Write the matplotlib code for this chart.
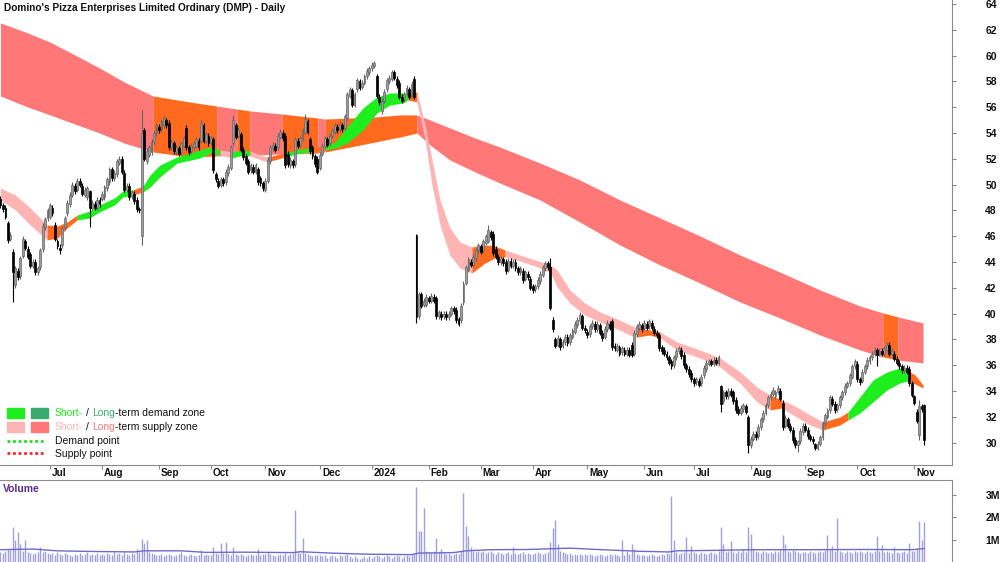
import matplotlib
matplotlib.use("Agg")
import matplotlib.pyplot as plt
import matplotlib.transforms as mtransforms
from matplotlib.lines import Line2D
from matplotlib.patches import Rectangle
import numpy as np
import pandas as pd

plt.rcParams["font.family"] = ["Liberation Sans", "DejaVu Sans"]

TITLE = "Domino's Pizza Enterprises Limited Ordinary (DMP) - Daily"

# trading-day calendar starts 2023-06-01; first candle is day index 2
CAL_START = "2023-06-01"
FIRST = 2
MONTH_LABELS = ["Jul", "Aug", "Sep", "Oct", "Nov", "Dec", "2024", "Feb", "Mar",
                "Apr", "May", "Jun", "Jul", "Aug", "Sep", "Oct", "Nov"]

opens = [
    # Jun 2023
    48.9, 48.4, 48.2, 47.0, 45.8, 44.8, 42.2, 43.3, 42.9, 44.5, 45.6, 45.0, 44.6, 43.7, 44.0, 43.2, 43.6, 45.0, 46.7, 47.4,
    # Jul
    47.5, 48.2, 46.9, 45.6, 45.1, 45.3, 46.7, 47.8, 48.5, 49.2, 49.9, 49.6, 50.3, 49.9, 49.2, 49.0, 49.5, 48.2, 48.5, 48.2, 48.8,
    # Aug
    48.9, 49.0, 49.7, 50.2, 51.2, 50.5, 50.8, 51.7, 52.0, 50.9, 49.6, 49.9, 49.1, 49.3, 48.8, 48.1, 46.0, 54.2, 51.8, 52.3, 52.5, 53.3, 54.0,
    # Sep
    54.5, 54.3, 54.6, 55.0, 54.8, 52.9, 53.2, 52.5, 52.8, 52.5, 53.0, 54.4, 52.9, 52.6, 52.9, 53.0, 53.4, 53.4, 54.6, 53.4, 53.8,
    # Oct
    53.3, 53.5, 50.8, 50.3, 50.0, 50.4, 50.2, 50.9, 51.3, 53.2, 54.6, 53.8, 53.9, 52.7, 52.2, 51.8, 51.1, 51.4, 51.0, 51.2, 50.5, 50.1,
    # Nov
    49.6, 50.3, 51.8, 52.8, 53.0, 52.9, 53.7, 54.0, 53.8, 52.4, 51.5, 51.8, 51.6, 53.4, 53.1, 53.6, 54.0, 54.9, 53.5, 52.9, 52.2, 52.0,
    # Dec
    51.3, 52.4, 53.0, 53.5, 53.2, 53.8, 54.1, 54.5, 54.3, 54.6, 54.4, 55.2, 56.9, 57.3, 56.2, 57.4, 58.0, 57.6, 57.9, 58.4, 58.7,
    # Jan 2024
    59.0, 59.2, 58.4, 56.8, 55.7, 56.5, 57.4, 58.0, 58.2, 58.7, 58.2, 57.9, 56.8, 56.6, 57.1, 57.4, 56.9, 58.2, 46.1, 39.8, 41.5, 40.7, 40.7,
    # Feb
    41.2, 41.0, 41.3, 41.2, 39.8, 40.0, 39.8, 40.0, 39.7, 40.0, 40.4, 40.3, 39.6, 39.5, 40.9, 42.4, 43.4, 44.0, 43.8, 44.3, 44.9,
    # Mar
    45.2, 44.9, 45.5, 45.6, 46.3, 46.2, 45.0, 44.4, 44.0, 44.2, 44.0, 43.4, 44.1, 43.7, 44.0, 43.5, 43.2, 43.3, 42.7, 43.1, 42.7,
    # Apr
    42.1, 41.9, 42.1, 42.5, 43.0, 43.5, 43.9, 43.6, 39.5, 38.0, 37.6, 38.0, 37.5, 37.8, 38.2, 37.8, 38.2, 38.6, 39.1, 39.4, 39.8, 38.9,
    # May
    38.6, 38.4, 39.0, 39.2, 38.8, 39.1, 38.5, 38.2, 38.8, 39.2, 39.4, 37.5, 37.2, 37.4, 37.0, 37.2, 36.9, 37.2, 37.6, 36.9, 38.4, 38.9, 39.1,
    # Jun
    38.9, 39.2, 39.0, 39.3, 38.8, 38.5, 38.3, 37.4, 37.2, 36.9, 36.6, 36.3, 36.0, 36.6, 37.1, 37.2, 36.8, 36.0, 35.7, 35.4,
    # Jul
    34.9, 34.7, 34.8, 34.6, 35.2, 35.7, 36.1, 36.3, 36.1, 36.4, 36.2, 34.4, 33.2, 33.9, 33.6, 34.0, 33.9, 33.3, 32.6, 32.3, 32.6, 32.8, 32.0,
    # Aug
    29.8, 30.3, 30.7, 30.5, 31.2, 31.8, 32.3, 32.9, 33.5, 33.8, 33.6, 33.9, 34.0, 33.1, 31.3, 31.8, 31.3, 31.0, 30.2, 29.8, 30.1, 30.8,
    # Sep
    31.3, 31.0, 30.5, 30.3, 29.9, 29.6, 29.9, 30.4, 31.5, 32.0, 32.5, 33.4, 33.0, 32.6, 32.9, 33.5, 33.9, 34.4, 34.6, 35.1, 35.9,
    # Oct
    36.1, 34.9, 34.8, 35.5, 35.9, 36.3, 36.6, 36.9, 37.2, 36.9, 37.1, 36.9, 37.2, 37.6, 36.9, 36.9, 36.5, 36.2, 35.9, 35.6, 35.8, 35.7, 34.6,
    # Nov
    33.6, 32.4, 30.6, 32.8, 32.9,
]

closes = [
    48.4, 48.1, 47.5, 45.7, 46.1, 43.2, 43.5, 42.8, 44.3, 45.8, 45.1, 44.4, 43.7, 44.0, 43.2, 43.5, 44.9, 46.8, 47.3, 48.0,
    48.4, 47.8, 45.8, 45.2, 44.9, 46.6, 47.4, 48.6, 49.2, 50.0, 49.5, 50.3, 50.0, 49.3, 49.6, 49.7, 48.2, 48.6, 48.2, 48.8, 48.5,
    49.3, 49.8, 50.4, 51.2, 50.5, 50.9, 51.8, 52.0, 51.0, 49.6, 49.9, 49.0, 49.4, 48.7, 48.1, 48.0, 54.0, 52.0, 52.6, 52.9, 53.3, 54.0, 54.6,
    54.2, 54.9, 55.2, 54.6, 52.9, 53.3, 52.6, 52.9, 52.4, 53.2, 53.6, 52.9, 52.5, 53.0, 53.2, 53.5, 52.9, 54.8, 53.4, 53.9, 53.2,
    53.6, 51.1, 50.4, 49.9, 50.4, 50.1, 51.0, 51.4, 52.9, 55.0, 53.7, 54.3, 52.7, 52.1, 51.7, 51.0, 51.5, 51.0, 51.5, 50.2, 50.1, 49.7,
    50.3, 51.9, 52.9, 53.1, 52.7, 53.8, 54.1, 53.6, 51.5, 51.6, 51.9, 51.5, 53.5, 53.0, 53.6, 54.2, 55.1, 54.1, 52.6, 52.2, 51.6, 51.0,
    52.3, 53.0, 53.6, 53.1, 53.8, 54.2, 54.6, 54.2, 54.7, 54.3, 55.3, 57.0, 57.4, 56.2, 57.0, 58.1, 57.5, 57.9, 58.4, 58.8, 59.0,
    59.3, 59.4, 56.9, 56.4, 56.5, 57.2, 58.1, 58.3, 58.7, 58.3, 57.7, 56.8, 56.5, 57.0, 57.5, 56.8, 57.8, 56.8, 39.7, 41.5, 40.6, 41.0, 41.3,
    41.0, 41.4, 41.0, 39.8, 40.1, 39.7, 40.0, 39.7, 40.0, 40.4, 40.2, 39.5, 39.2, 40.6, 42.3, 43.6, 44.2, 43.8, 44.4, 44.9, 45.3,
    44.8, 45.6, 46.0, 46.5, 45.9, 44.7, 44.4, 44.0, 44.3, 43.9, 43.3, 44.1, 43.7, 44.0, 43.5, 43.2, 43.5, 42.6, 43.2, 42.8, 42.0,
    41.8, 42.1, 42.6, 43.1, 43.6, 43.9, 43.6, 40.4, 38.8, 37.5, 38.1, 37.4, 37.8, 38.2, 37.7, 38.3, 38.7, 39.2, 39.5, 39.9, 38.9, 38.7,
    38.3, 39.0, 39.3, 38.8, 39.2, 38.5, 38.1, 38.8, 39.3, 38.9, 37.4, 37.3, 37.5, 36.9, 37.3, 36.9, 37.2, 36.8, 36.8, 38.5, 39.0, 39.2, 38.8,
    39.3, 38.9, 39.4, 38.9, 38.5, 38.3, 37.3, 37.1, 36.9, 36.6, 36.2, 35.9, 36.6, 37.1, 37.3, 36.7, 36.0, 35.7, 35.3, 34.9,
    34.6, 34.9, 34.5, 35.1, 35.8, 36.2, 36.3, 36.1, 36.4, 36.2, 36.6, 33.0, 33.9, 33.6, 34.0, 33.7, 33.2, 32.5, 32.3, 32.7, 32.9, 32.4, 29.8,
    30.3, 30.7, 30.4, 31.2, 31.8, 32.3, 32.9, 33.5, 33.8, 34.1, 33.9, 34.2, 33.4, 31.2, 31.9, 31.3, 31.0, 30.2, 29.8, 30.1, 30.9, 31.3,
    31.0, 30.5, 30.3, 30.1, 29.6, 29.9, 30.4, 31.5, 32.1, 32.5, 33.5, 33.0, 32.5, 32.9, 33.5, 33.9, 34.4, 34.6, 35.2, 35.9, 36.3,
    34.9, 34.7, 35.5, 35.9, 36.4, 36.6, 36.9, 37.2, 36.8, 37.1, 36.9, 37.3, 37.6, 36.9, 37.1, 36.5, 36.2, 35.9, 35.6, 35.8, 35.5, 34.6, 33.7,
    33.1, 31.7, 32.8, 32.6, 30.2,
]

# days whose wicks reach well beyond the body: day index -> (high, low)
long_wicks = {
    7: (45.0, 40.9), 26: (45.4, 44.6), 38: (49.6, 46.7), 59: (55.8, 45.3),
    96: (55.4, 53.0), 125: (55.5, 53.9), 153: (59.6, 59.0), 170: (46.2, 39.3),
    187: (39.7, 39.0), 199: (46.9, 45.5), 224: (44.3, 40.3), 293: (34.5, 32.4),
    304: (32.1, 29.2), 316: (34.5, 33.8), 324: (30.2, 29.3), 331: (30.0, 29.4),
    356: (37.3, 35.9), 360: (37.8, 37.1), 371: (33.7, 32.9), 373: (33.3, 30.2),
    375: (33.0, 29.8),
}

volume_m = [
    0.45, 0.4, 0.5, 0.6, 0.55, 1.57, 1.0, 1.35, 0.8, 0.5, 1.0, 0.45, 0.4, 0.35, 0.4, 0.45, 0.65, 0.45, 0.5, 0.4,
    0.35, 0.4, 0.3, 0.45, 0.35, 0.3, 0.4, 0.35, 0.3, 0.25, 0.35, 0.3, 0.4, 0.3, 0.35, 0.45, 0.3, 0.35, 0.3, 0.4, 0.3,
    0.35, 0.3, 0.4, 0.35, 0.3, 0.45, 0.35, 0.4, 0.3, 0.45, 0.35, 0.3, 0.4, 0.35, 0.6, 0.45, 1.05, 0.85, 1.0, 0.45, 0.4, 0.35, 0.3,
    0.3, 0.35, 0.25, 0.3, 0.35, 0.3, 0.25, 0.3, 0.35, 0.45, 0.3, 0.25, 0.3, 0.35, 0.3, 0.25, 0.3, 0.55, 0.3, 0.35, 0.3,
    0.3, 0.65, 0.4, 0.35, 0.85, 0.4, 0.9, 0.35, 0.3, 0.65, 0.35, 0.3, 0.35, 0.3, 0.25, 0.3, 0.35, 0.3, 0.3, 0.6, 0.3, 0.35,
    0.35, 0.45, 0.35, 0.3, 0.25, 0.3, 0.35, 0.3, 0.4, 0.3, 0.35, 0.4, 2.33, 0.45, 0.4, 1.07, 0.4, 0.35, 0.3, 0.25, 0.3, 0.3,
    0.3, 0.25, 0.3, 0.2, 0.25, 0.3, 0.25, 0.2, 0.3, 0.25, 0.3, 0.35, 0.25, 0.2, 0.25, 0.2, 0.15, 0.2, 0.25, 0.2, 0.25,
    0.2, 0.25, 0.3, 0.25, 0.2, 0.25, 0.3, 0.25, 0.2, 0.25, 0.3, 0.25, 0.2, 0.25, 0.3, 0.25, 0.3, 0.35, 3.35, 1.4, 1.4, 2.42, 0.5,
    0.45, 0.4, 0.5, 1.07, 0.45, 0.6, 0.4, 0.35, 0.4, 0.3, 0.35, 0.4, 0.35, 0.5, 3.1, 1.6, 1.15, 0.65, 0.5, 0.45, 0.5,
    0.45, 0.5, 0.4, 0.45, 0.5, 0.4, 0.35, 0.45, 0.4, 0.35, 0.4, 0.45, 0.35, 0.65, 0.4, 0.35, 0.4, 0.45, 0.35, 0.4, 0.35,
    0.35, 0.4, 0.45, 0.4, 0.35, 0.4, 0.45, 0.9, 1.53, 1.9, 0.8, 0.5, 0.45, 0.4, 0.35, 0.4, 0.3, 0.35, 0.3, 0.35, 0.3, 0.35,
    0.3, 0.35, 0.3, 0.25, 0.3, 0.35, 0.3, 0.25, 0.3, 0.35, 0.3, 0.35, 0.3, 0.25, 1.0, 0.3, 0.5, 0.35, 0.8, 0.6, 0.35, 0.3, 0.3,
    0.3, 0.25, 0.3, 0.35, 0.3, 0.25, 0.3, 0.35, 0.3, 0.4, 0.35, 2.95, 0.97, 0.45, 0.35, 0.4, 0.45, 1.1, 0.4, 0.7,
    0.45, 0.4, 0.35, 0.45, 0.4, 0.35, 0.4, 0.45, 0.4, 0.35, 0.5, 1.55, 0.8, 0.45, 0.5, 0.92, 0.45, 0.4, 0.5, 0.45, 0.6, 0.45, 1.56,
    1.25, 0.6, 0.5, 0.45, 0.4, 0.5, 0.45, 0.4, 0.45, 0.4, 0.5, 0.45, 0.6, 1.2, 0.8, 0.5, 0.45, 0.55, 0.5, 0.45, 0.4, 0.45,
    0.45, 0.4, 0.5, 0.45, 0.4, 0.45, 0.5, 0.45, 0.55, 1.2, 0.6, 0.7, 0.5, 1.98, 0.5, 0.45, 0.4, 0.5, 0.45, 0.4, 0.5,
    0.45, 0.5, 0.45, 0.4, 0.5, 0.45, 0.4, 0.5, 1.15, 0.5, 0.75, 0.45, 0.5, 0.45, 0.4, 0.65, 0.45, 0.4, 0.45, 0.5, 0.4, 0.85, 0.5,
    0.5, 0.6, 1.85, 0.97, 1.8,
]

vol_avg_idx = [2, 15, 25, 40, 56, 60, 75, 85, 100, 120, 123, 135, 150, 168, 171, 185, 190,
               200, 215, 226, 232, 245, 260, 272, 275, 290, 305, 330, 350, 370, 375]
vol_avg_m = [0.55, 0.58, 0.5, 0.47, 0.45, 0.5, 0.5, 0.43, 0.44, 0.42, 0.46, 0.4, 0.35, 0.33, 0.4, 0.42, 0.5,
             0.55, 0.56, 0.6, 0.62, 0.55, 0.48, 0.45, 0.5, 0.52, 0.55, 0.55, 0.56, 0.55, 0.6]

# long-term zone (edges read at sample days); S = supply, O = price inside zone
lt_idx = [2, 12, 22, 32, 42, 52, 63.6, 78.5, 89.4, 97.5, 102.8, 115.7, 130.2, 133.1, 143.2, 153.3, 163.4,
          170.2, 175.5, 183.5, 193.7, 203.7, 219.9, 236, 252.2, 268.4, 284.5, 300.7, 316.8, 333, 349.1,
          358.4, 364.5, 374.6]
lt_hi = [62.53, 61.83, 61.05, 60.05, 59.04, 57.95, 56.87, 56.40, 56.09, 55.86, 55.71, 55.47, 55.16, 55.08,
         55.16, 55.24, 55.40, 55.40, 55.01, 54.39, 53.61, 52.91, 51.67, 50.36, 48.81, 47.41, 46.02, 44.54,
         43.22, 41.83, 40.59, 40.05, 39.74, 39.27]
lt_lo = [56.87, 56.09, 55.40, 54.70, 54.00, 53.22, 52.53, 52.14, 52.22, 52.29, 52.29, 52.37, 52.45, 52.53,
         52.91, 53.30, 53.69, 54.00, 53.07, 51.91, 50.98, 50.12, 48.81, 47.10, 45.32, 43.77, 42.37, 40.90,
         39.66, 38.34, 37.18, 36.64, 36.40, 36.17]
lt_zone = "SSSSSSOOSOSOSOOOO" + "SSSSSSSSSSSSSS" + "OS"

# short-term zone; S = supply, D = demand, O = price inside zone
st_idx = [2, 8, 14, 20.8, 25, 28.9, 33, 38, 42, 48, 51.5, 55.5, 59.6, 62.4, 66.4, 73.3, 82.6, 86.6, 90.7,
          95.5, 100, 102.8, 109.6, 117, 123, 128.2, 133.1, 137.1, 142, 148.4, 154, 159.3, 164.6, 166.6,
          170.2, 173.5, 176.3, 179.5, 183.5, 187.6, 192.4, 197.7, 201.7, 205.8, 211.8, 217.9, 224, 226.8,
          232, 238, 244.1, 250.2, 256.2, 259.1, 264.3, 268.4, 275.2, 284.5, 292.6, 300.7, 307.5, 312.8,
          317.6, 322.1, 329, 334.2, 341, 344.3, 349.1, 354.4, 360, 365.3, 368.5, 371.4, 374.6]
st_hi = [49.74, 49.19, 48.19, 46.87, 46.79, 47.10, 47.64, 47.95, 48.42, 48.96, 49.50, 49.58, 49.89, 50.74,
         51.52, 52.14, 52.68, 52.91, 52.68, 52.53, 52.68, 52.60, 52.14, 52.45, 52.76, 52.84, 52.99, 53.30,
         54.47, 55.94, 56.79, 57.10, 57.10, 57.10, 57.18, 54.62, 51.91, 48.81, 46.64, 45.55, 45.16, 45.32,
         45.24, 44.93, 44.54, 44.16, 43.77, 43.38, 41.83, 40.82, 40.12, 39.66, 39.12, 38.88, 38.73, 38.57,
         37.80, 37.18, 36.56, 35.47, 34.31, 33.69, 33.30, 32.91, 32.14, 31.60, 31.98, 32.37, 33.53, 34.85,
         35.47, 35.78, 35.55, 35.24, 34.47]
st_lo = [48.81, 48.03, 46.87, 45.71, 45.86, 46.64, 47.26, 47.41, 47.88, 48.42, 49.04, 49.19, 49.43, 49.81,
         50.59, 51.67, 52.06, 52.45, 52.29, 52.06, 52.29, 52.22, 51.75, 52.14, 52.45, 52.53, 52.68, 52.84,
         53.22, 54.23, 55.55, 56.17, 56.33, 56.56, 56.40, 53.46, 49.97, 46.87, 44.54, 43.53, 43.15, 43.92,
         44.31, 44.39, 44.08, 43.69, 43.22, 42.06, 40.82, 39.89, 39.35, 38.88, 38.34, 38.19, 38.34, 38.11,
         37.18, 36.56, 35.86, 34.62, 33.15, 32.53, 32.68, 32.14, 31.36, 30.98, 31.36, 31.75, 32.29, 33.15,
         34.08, 34.62, 34.78, 34.54, 34.23]
st_zone = ("SSS" + "OOO" + "DDDDD" + "O" + "DDDDDD" + "S" + "DD" + "S" + "O" + "DD" + "O" + "DDDDDDD"
           + "O" + "SSSSSS" + "OOO" + "SSSSSSSSSS" + "OO" + "SSSSSS" + "O" + "SSS" + "OO" + "DDDDD" + "OO")

# colours
ST_DEMAND = "#1EEE1E"
LT_DEMAND = "#3AAA6E"
ST_SUPPLY = "#FFB4B4"
LT_SUPPLY = "#FF7777"
INSIDE = "#FF6A1E"
VOL_COLOR = "#A0A0DE"
WICK = 0.2

W, H = 1000, 562
MAIN_BOTTOM, VOL_TOP, PLOT_RIGHT = 465, 480, 952
X_LEFT, X_RIGHT = 1.8, 386.3


def draw_zone(ax, idx, hi, lo, zone, colors, z):
    idx, hi, lo = np.asarray(idx), np.asarray(hi), np.asarray(lo)
    start = 0
    for k in range(1, len(zone) + 1):
        if k == len(zone) or zone[k] != zone[start]:
            sl = slice(start, k + 1)
            ax.fill_between(idx[sl], lo[sl], hi[sl], color=colors[zone[start]],
                            lw=0, zorder=z)
            start = k


def px(x, y):
    return x / W, 1 - y / H


def text_width(fig, s, **kw):
    r = fig.canvas.get_renderer()
    t = fig.text(0, 0, s, **kw)
    w = t.get_window_extent(renderer=r).width
    t.remove()
    return w


def multicolor(fig, x, y, full, pieces, size):
    # pieces: (start_char, end_char, colour); placed by measuring the prefix
    kw = dict(fontsize=size)
    for a, b, col in pieces:
        if a == 0:
            off = 0
        else:
            off = text_width(fig, full[:a + 1], **kw) - text_width(fig, full[a], **kw)
        fig.text(*px(x + off, y), full[a:b], color=col, va="center", ha="left", **kw)


def main():
    assert len(opens) == len(closes) == len(volume_m)
    assert len(lt_zone) == len(lt_idx) - 1 and len(st_zone) == len(st_idx) - 1

    o = np.array(opens)
    c = np.array(closes)
    xs = np.arange(FIRST, FIRST + len(o))
    hi = np.maximum(o, c) + WICK
    lo = np.minimum(o, c) - WICK
    for day, (h_, l_) in long_wicks.items():
        hi[day - FIRST] = h_
        lo[day - FIRST] = l_
    up = c >= o

    fig = plt.figure(figsize=(W / 100, H / 100), dpi=100)
    ax = fig.add_axes([0, 1 - MAIN_BOTTOM / H, PLOT_RIGHT / W, MAIN_BOTTOM / H])
    axv = fig.add_axes([0, 0, PLOT_RIGHT / W, (H - VOL_TOP) / H])

    draw_zone(ax, lt_idx, lt_hi, lt_lo, lt_zone, {"S": LT_SUPPLY, "O": INSIDE}, 1)
    draw_zone(ax, st_idx, st_hi, st_lo, st_zone,
              {"S": ST_SUPPLY, "D": ST_DEMAND, "O": INSIDE}, 2)

    ax.vlines(xs[up], lo[up], hi[up], color="#666666", lw=0.8, zorder=3)
    ax.vlines(xs[~up], lo[~up], hi[~up], color="black", lw=0.8, zorder=3)
    ax.bar(xs[up], (c - o)[up], bottom=o[up], width=0.75, color="#9c9c9c",
           edgecolor="#666666", lw=0.5, zorder=4)
    ax.bar(xs[~up], (c - o)[~up], bottom=o[~up], width=0.75, color="black",
           edgecolor="black", lw=0.5, zorder=4)

    ax.set_xlim(X_LEFT, X_RIGHT)
    ax.set_ylim(28.26, 64.31)
    ax.yaxis.tick_right()
    ax.set_yticks(np.arange(30, 65, 2))
    ax.set_yticklabels([str(v) for v in range(30, 65, 2)])
    ax.tick_params(axis="y", length=3, color="#888888", pad=21,
                   labelsize=7.5, labelcolor="#111111")
    for lab in ax.get_yticklabels():
        lab.set_fontweight("bold")
    for s in ("top", "left"):
        ax.spines[s].set_visible(False)
    for s in ("right", "bottom"):
        ax.spines[s].set_color("#8a8a8a")

    # month ticks and labels
    dates = pd.bdate_range(CAL_START, periods=FIRST + len(o))
    months = dates.to_period("M")
    starts = [i for i in range(1, len(dates)) if months[i] != months[i - 1]]
    ax.set_xticks(starts)
    ax.set_xticklabels([])
    ax.tick_params(axis="x", length=3, color="#888888")
    lab_tr = mtransforms.offset_copy(ax.get_xaxis_transform(), fig=fig, x=2, y=-8, units="dots")
    for i, lab in zip(starts, MONTH_LABELS):
        ax.text(i, 0, lab, transform=lab_tr, ha="left", va="center",
                fontsize=7.2, fontweight="bold", color="#111111")

    # volume
    axv.vlines(xs, 0, volume_m, color=VOL_COLOR, lw=1.0)
    axv.plot(vol_avg_idx, vol_avg_m, color="#6c6cc8", lw=1.0)
    axv.set_xlim(X_LEFT, X_RIGHT)
    axv.set_ylim(0, 3.67)
    axv.set_xticks([])
    axv.yaxis.tick_right()
    axv.set_yticks([1, 2, 3])
    axv.set_yticklabels(["1M", "2M", "3M"])
    axv.tick_params(axis="y", length=3, color="#888888", pad=21,
                    labelsize=7.5, labelcolor="#111111")
    for lab in axv.get_yticklabels():
        lab.set_fontweight("bold")
    for s in ("left", "bottom"):
        axv.spines[s].set_visible(False)
    for s in ("top", "right"):
        axv.spines[s].set_color("#8a8a8a")
    fig.text(*px(3, 489), "Volume", color="#5B2C91", fontsize=7.5,
             fontweight="bold", va="center", ha="left")

    # title
    fig.text(*px(4, 8), TITLE, fontsize=7.3, fontweight="bold", va="center",
             ha="left", color="#111111")

    # legend
    for (x0, y0), col in [((7, 408), ST_DEMAND), ((31, 408), LT_DEMAND),
                          ((7, 422), ST_SUPPLY), ((31, 422), LT_SUPPLY)]:
        fig.patches.append(Rectangle(px(x0, y0 + 10), 17 / W, 10 / H, color=col,
                                     transform=fig.transFigure, figure=fig))
    for y0, col in [(441, "#22DD22"), (453, "#FF2222")]:
        fig.lines.append(Line2D([7 / W, 44 / W], [1 - y0 / H] * 2, color=col, lw=2,
                                linestyle=(0, (1, 1)), transform=fig.transFigure))
    t1 = "Short- / Long-term demand zone"
    multicolor(fig, 55, 413, t1, [(0, 6, ST_DEMAND), (7, 8, "#111111"),
                                  (9, 13, LT_DEMAND), (13, len(t1), "#111111")], 7.5)
    t2 = "Short- / Long-term supply zone"
    multicolor(fig, 55, 427, t2, [(0, 6, ST_SUPPLY), (7, 8, "#111111"),
                                  (9, 13, LT_SUPPLY), (13, len(t2), "#111111")], 7.5)
    fig.text(*px(55, 441), "Demand point", fontsize=7.5, va="center", color="#111111")
    fig.text(*px(55, 454), "Supply point", fontsize=7.5, va="center", color="#111111")

    fig.savefig("out.png", dpi=100, facecolor="white")


if __name__ == "__main__":
    main()
